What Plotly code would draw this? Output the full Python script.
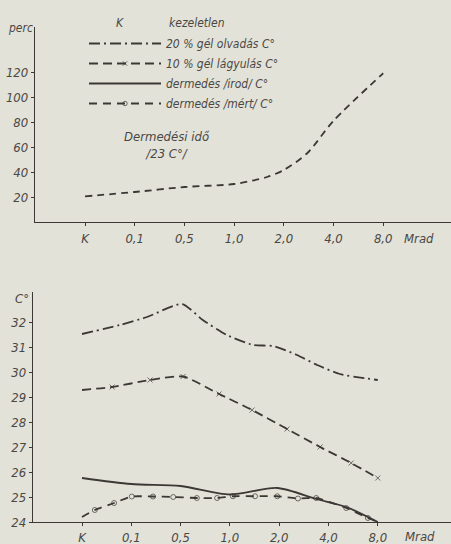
import plotly.graph_objects as go

# ---------------- data ----------------
cat_labels = ["K", "0,1", "0,5", "1,0", "2,0", "4,0", "8,0"]
cat_pos = [0, 1, 2, 3, 4, 5, 6]

# top panel: Dermedési idő /23 C°/ (perc)
ido_x = [0, 1, 2, 3, 3.66, 4, 4.47, 5, 6]
ido_y = [20.5, 24, 28, 30.4, 36, 41.6, 55, 81, 119]

# bottom panel (C°)
olv_x = [0, 0.77, 1.32, 2.03, 2.45, 2.94, 3.47, 3.87, 4.36, 4.77, 5.23, 6.0]
olv_y = [31.52, 31.88, 32.2, 32.72, 32.08, 31.48, 31.08, 31.04, 30.68, 30.28, 29.92, 29.68]

lag_x = [0, 0.61, 1.38, 2.05, 2.78, 3.45, 4.16, 4.83, 5.46, 6.0]
lag_y = [29.28, 29.4, 29.68, 29.82, 29.12, 28.48, 27.72, 27.0, 26.36, 25.76]

irod_x = [0, 1, 2, 3, 3.96, 4.75, 5.36, 6.0]
irod_y = [25.76, 25.52, 25.44, 25.1, 25.36, 24.92, 24.6, 24.0]

mert_x = [0, 0.26, 0.65, 1.01, 1.44, 1.85, 2.33, 2.74, 3.06, 3.51, 3.96, 4.38, 4.75, 5.36, 5.80, 6.0]
mert_y = [24.2, 24.48, 24.76, 25.02, 25.02, 25.0, 24.96, 24.96, 25.03, 25.03, 25.03, 24.94, 24.96, 24.56, 24.16, 24.0]

top_ticks = [20, 40, 60, 80, 100, 120]
bot_ticks = [24, 25, 26, 27, 28, 29, 30, 31, 32]

# ---------------- style ----------------
W, H_REF = 451, 544
H = 552  # page height actually captured by the screenshot
BG = "#e3e2d8"
INK = "#3b3835"
TXT = "#4a4845"
FONT = "Liberation Sans Narrow, DejaVu Sans Condensed, Liberation Sans, sans-serif"

def fy(py):
    return 1 - py / H_REF

fig = go.Figure()

fig.add_trace(go.Scatter(
    x=ido_x, y=ido_y, mode="lines", xaxis="x", yaxis="y",
    line=dict(color=INK, width=1.8, dash="7px,5px", shape="spline", smoothing=0.8),
    showlegend=False, hoverinfo="skip"))
fig.add_trace(go.Scatter(
    x=olv_x, y=olv_y, mode="lines", xaxis="x2", yaxis="y2",
    name="20 % gél olvadás C°", legendgroup="a",
    line=dict(color=INK, width=1.8, dash="11px,4px,2px,4px", shape="spline", smoothing=0.6)))
fig.add_trace(go.Scatter(
    x=lag_x, y=lag_y, mode="lines+markers", xaxis="x2", yaxis="y2",
    name="10 % gél lágyulás C°", legendgroup="b",
    line=dict(color=INK, width=1.8, dash="9px,5px", shape="spline", smoothing=0.6),
    marker=dict(symbol="x-thin-open", size=[0] + [5] * (len(lag_x) - 1),
                line=dict(color=INK, width=1), color=INK)))
fig.add_trace(go.Scatter(
    x=irod_x, y=irod_y, mode="lines", xaxis="x2", yaxis="y2",
    name="dermedés /irod/ C°", legendgroup="c",
    line=dict(color=INK, width=1.8, shape="spline", smoothing=0.8)))
fig.add_trace(go.Scatter(
    x=mert_x, y=mert_y, mode="lines+markers", xaxis="x2", yaxis="y2",
    name="dermedés /mért/ C°", legendgroup="d",
    line=dict(color=INK, width=1.8, dash="8px,6px", shape="spline", smoothing=0.5),
    marker=dict(symbol="circle-open", size=[0] + [5] * (len(mert_x) - 2) + [0],
                line=dict(color=INK, width=1), color=INK)))

axis_common = dict(
    showgrid=False, zeroline=False, showline=True, linecolor=INK, linewidth=1.3,
    ticks="outside", ticklen=3, tickcolor=INK, tickwidth=1,
    tickfont=dict(family=FONT, size=13, color=TXT, style="italic"),
)

fig.update_layout(
    width=W, height=H,
    margin=dict(l=0, r=0, t=0, b=0),
    paper_bgcolor=BG, plot_bgcolor=BG,
    font=dict(family=FONT, color=TXT, style="italic"),
    xaxis=dict(axis_common, domain=[35 / W, 1], range=[-1.006, 7.364],
               tickvals=cat_pos, ticktext=cat_labels, anchor="y", ticklabelstandoff=1),
    yaxis=dict(axis_common, domain=[fy(222), fy(27)], range=[0, 156],
               tickvals=top_ticks, anchor="x"),
    xaxis2=dict(axis_common, domain=[33 / W, 1], range=[-0.994, 7.485],
                tickvals=cat_pos, ticktext=cat_labels, anchor="y2", ticklabelstandoff=0),
    yaxis2=dict(axis_common, domain=[fy(522), fy(292)], range=[24, 33.2],
                tickvals=bot_ticks, anchor="x2"),
    legend=dict(x=84 / W, y=fy(29), xanchor="left", yanchor="top",
                bgcolor="rgba(0,0,0,0)", itemwidth=72, tracegroupgap=1,
                font=dict(family=FONT, size=12, color=TXT, style="italic")),
    showlegend=True,
)

def note(text, px, py, size=13, xanchor="center", align="center"):
    fig.add_annotation(text=text, x=px / W, y=fy(py), xref="paper", yref="paper",
                       showarrow=False, xanchor=xanchor, yanchor="middle", align=align,
                       font=dict(family=FONT, size=size, color=TXT, style="italic"))

note("K", 120, 23, size=12)
note("kezeletlen", 167, 23, size=12, xanchor="left")
note("perc", 20, 28, size=12)
note("Dermedési idő<br>/23 C°/", 167, 145, size=13)
note("C°", 22, 298)
note("Mrad", 419, 238)
note("Mrad", 420, 536)

fig.write_html(
    "out.html",
    config={"displayModeBar": False},
    post_script="document.body.style.margin='0';document.body.style.overflow='hidden';",
)
